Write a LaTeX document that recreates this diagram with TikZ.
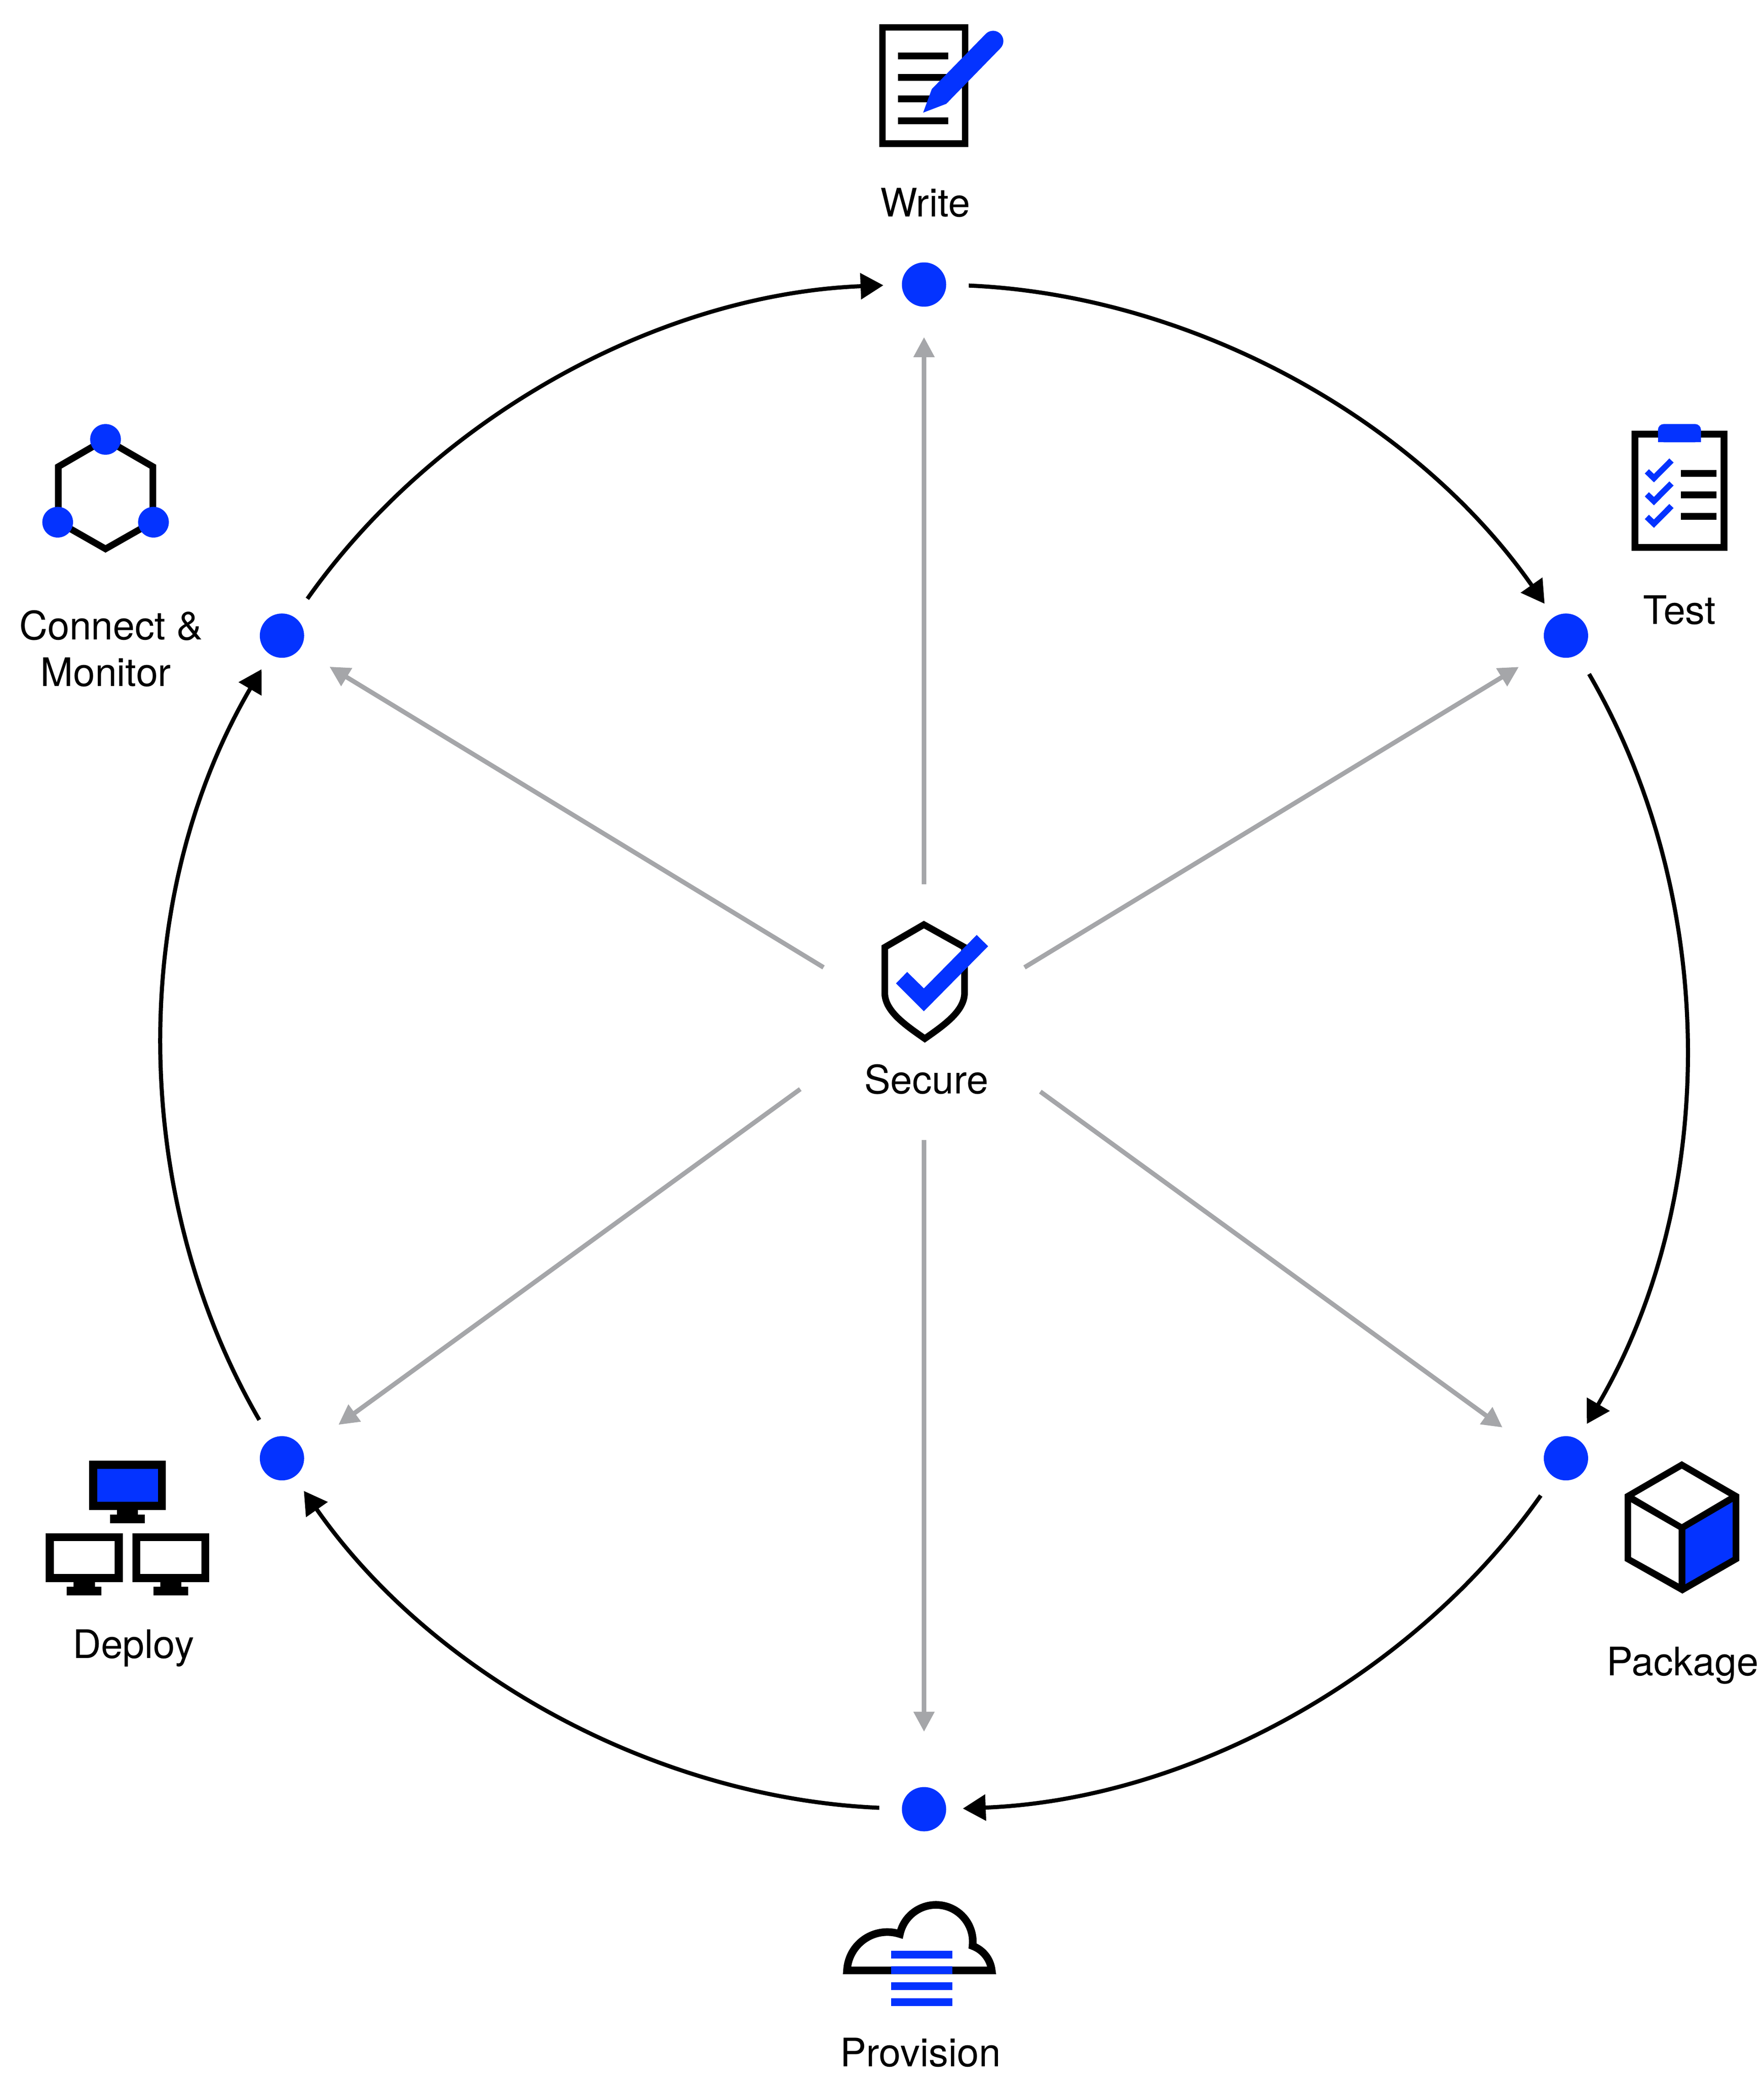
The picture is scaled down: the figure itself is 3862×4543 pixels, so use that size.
\documentclass[tikz,border=0pt]{standalone}
\usepackage{fontspec}
\setmainfont{TeX Gyre Heros}
\usetikzlibrary{arrows.meta}
\definecolor{iconblue}{HTML}{0433FF}
\definecolor{spoke}{HTML}{A5A6A9}
\tikzset{
  hub/.style={circle,fill=iconblue,minimum size=19.4pt,inner sep=0pt,outer sep=0pt},
  ringarrow/.style={draw=black,line width=1.8pt,-{Triangle[length=10pt,width=11.2pt]}},
  spokearrow/.style={draw=spoke,line width=2pt,-{Triangle[length=8.8pt,width=8.8pt]}},
  lbl/.style={font=\fontsize{17.2}{20.3}\selectfont,inner sep=0pt,outer sep=0pt,text=black},
  iconline/.style={draw=black,line width=2.9pt,miter limit=10},
}
\newcommand{\monitoricon}[3]{%
  \begin{scope}[shift={(#1,#2)}]
    \fill[black] (195,3198.3) rectangle (363.3,3305.7);
    \fill[#3] (212.7,3216) rectangle (346,3288);
    \fill[black] (256,3305) rectangle (302.3,3317);
    \fill[black] (241,3316) rectangle (317,3335);
  \end{scope}}
\newcommand{\checkicon}[1]{%
  \fill[iconblue,shift={(0,#1)}] (3601,1036.7) -- (3610,1027.3) -- (3621,1037.7) -- (3654.7,1003.7) -- (3664,1012.7) -- (3621,1056) -- cycle;}
\begin{document}
\begin{tikzpicture}[x=0.2pt,y=-0.2pt]
\useasboundingbox (0,0) rectangle (3862,4543);
\fill[white] (0,0) rectangle (3862,4543);

% hubs
\node[hub] (write) at (2023,623) {};
\node[hub] (test) at (3428.4,1391.7) {};
\node[hub] (package) at (3428.4,3192.7) {};
\node[hub] (provision) at (2023,3961) {};
\node[hub] (deploy) at (617.3,3192.7) {};
\node[hub] (connect) at (617.3,1391.7) {};

% ring
\draw[ringarrow,shorten <=9.9pt,shorten >=7.1pt] (write.-0.83) to[out=-2.515,in=124.95,distance=106.8pt] (test.123.48);
\draw[ringarrow,shorten <=9.9pt,shorten >=7.9pt] (test.-58.18) to[out=-59.865,in=59.65,distance=123.2pt] (package.58.18);
\draw[ringarrow,shorten <=10pt,shorten >=7.3pt] (package.-123.48) to[out=-125.165,in=2.3,distance=106.8pt] (provision.0.83);
\draw[ringarrow,shorten <=9.9pt,shorten >=7.5pt] (provision.179.17) to[out=177.485,in=304.95,distance=106.8pt] (deploy.303.48);
\draw[ringarrow,shorten <=9.8pt,shorten >=7.5pt] (deploy.121.82) to[out=120.135,in=239.65,distance=123.2pt] (connect.238.18);
\draw[ringarrow,shorten <=9.9pt,shorten >=8.1pt] (connect.56.52) to[out=54.835,in=182.3,distance=106.8pt] (write.180.83);

% spokes
\coordinate (sn) at (2023,1935.5);
\coordinate (ss) at (2023,2496);
\coordinate (sne) at (2243,2118);
\coordinate (snw) at (1803,2118);
\coordinate (sse) at (2277.6,2390);
\coordinate (ssw) at (1752,2384.5);
\draw[spokearrow,shorten >=13.3pt] (sn) -- (write.south);
\draw[spokearrow,shorten >=24.2pt] (ss) -- (provision.north);
\draw[spokearrow,shorten >=15.1pt] (sne) -- (test.217);
\draw[spokearrow,shorten >=15.2pt] (snw) -- (connect.-36);
\draw[spokearrow,shorten >=22.4pt] (sse) -- (package.178);
\draw[spokearrow,shorten >=19.3pt] (ssw) -- (deploy.20);

% write icon
\draw[iconline] (1932.2,59.8) rectangle (2113,314.3);
\fill[black] (1966,115) rectangle (2076,130);
\fill[black] (1966,162) rectangle (2076,177);
\fill[black] (1966,209.3) rectangle (2076,224.3);
\fill[black] (1966,257) rectangle (2076,272);
\fill[iconblue] (2021,246.7) -- (2040,195) -- (2158.3,74) arc[start angle=135,end angle=-45,radius=4.5pt] -- (2071.7,227.3) -- cycle;

% test icon
\draw[iconline] (3579.3,950.4) rectangle (3774.3,1198.6);
\fill[iconblue,rounded corners=2.6pt] (3629.7,968.3) -- (3629.7,928.3) -- (3724,928.3) -- (3724,968.3) -- cycle;
\fill[iconblue] (3629.7,945) rectangle (3724,968.3);
\checkicon{0}
\checkicon{50.3}
\checkicon{99.7}
\fill[black] (3680,1029) rectangle (3758,1044);
\fill[black] (3680,1076) rectangle (3758,1091);
\fill[black] (3680,1123) rectangle (3758,1138);

% package icon
\fill[black] (3682,3199) -- (3807.7,3271.7) -- (3807.7,3417.3) -- (3683.3,3489) -- (3556.7,3417.3) -- (3556.7,3271.7) -- cycle;
\fill[white] (3682,3215.7) -- (3785,3275.7) -- (3682,3336.7) -- (3578.3,3275.7) -- cycle;
\fill[white] (3571,3289.3) -- (3675,3349) -- (3675,3466.7) -- (3571,3409) -- cycle;
\fill[iconblue] (3689.7,3349) -- (3793.3,3288.3) -- (3793.3,3409) -- (3689.7,3468.3) -- cycle;

% provision icon
\draw[black,line width=3.34pt,miter limit=10] (1854.4,4314) arc[start angle=177.2,end angle=71.8,radius=17.667pt] arc[start angle=168,end angle=-6.6,radius=16.13pt] arc[start angle=70,end angle=6.2,radius=12.87pt] -- cycle;
\fill[iconblue] (1951,4271) rectangle (2085,4288);
\fill[iconblue] (1951,4305) rectangle (2085,4322);
\fill[iconblue] (1951,4340) rectangle (2085,4357);
\fill[iconblue] (1951,4375) rectangle (2085,4392);

% deploy icon
\monitoricon{0}{0}{iconblue}
\monitoricon{-94.7}{158.3}{white}
\monitoricon{94.7}{158.3}{white}

% connect icon
\draw[iconline] (231,961.7) -- (127.7,1021.7) -- (127.7,1142.7) -- (231,1201.7) -- (334.7,1142.7) -- (334.7,1021.7) -- cycle;
\fill[iconblue] (231,962) circle[radius=6.73pt];
\fill[iconblue] (126.3,1143.3) circle[radius=6.73pt];
\fill[iconblue] (336,1143.3) circle[radius=6.73pt];

% secure icon
\draw[iconline] (2022.7,2024.3) -- (1937,2074) -- (1937,2173.3) .. controls (1937,2213) and (1980,2243) .. (2024.7,2274) .. controls (2069,2243) and (2111.7,2213) .. (2111.7,2173.3) -- (2111.7,2074) -- cycle;
\fill[iconblue] (1961.7,2153) -- (1986,2128) -- (2022.7,2164) -- (2138.3,2047) -- (2163.3,2071.7) -- (2022.7,2214) -- cycle;

% labels
\node[lbl,anchor=base] (lwrite) at (2025.5,475) {Write};
\node[lbl,anchor=base] (ltest) at (3677,1366) {Test};
\node[lbl,anchor=base] (lpackage) at (3684,3668) {Package};
\node[lbl,anchor=base] (lprovision) at (2015,4524) {Provision};
\node[lbl,anchor=base] (ldeploy) at (292,3630) {Deploy};
\node[lbl,anchor=center,align=center] (lconnect) at (243,1420) {Connect \&\\Monitor\hspace*{4.6pt}};
\node[lbl,anchor=base] (lsecure) at (2028,2394.7) {Secure};
\end{tikzpicture}
\end{document}
